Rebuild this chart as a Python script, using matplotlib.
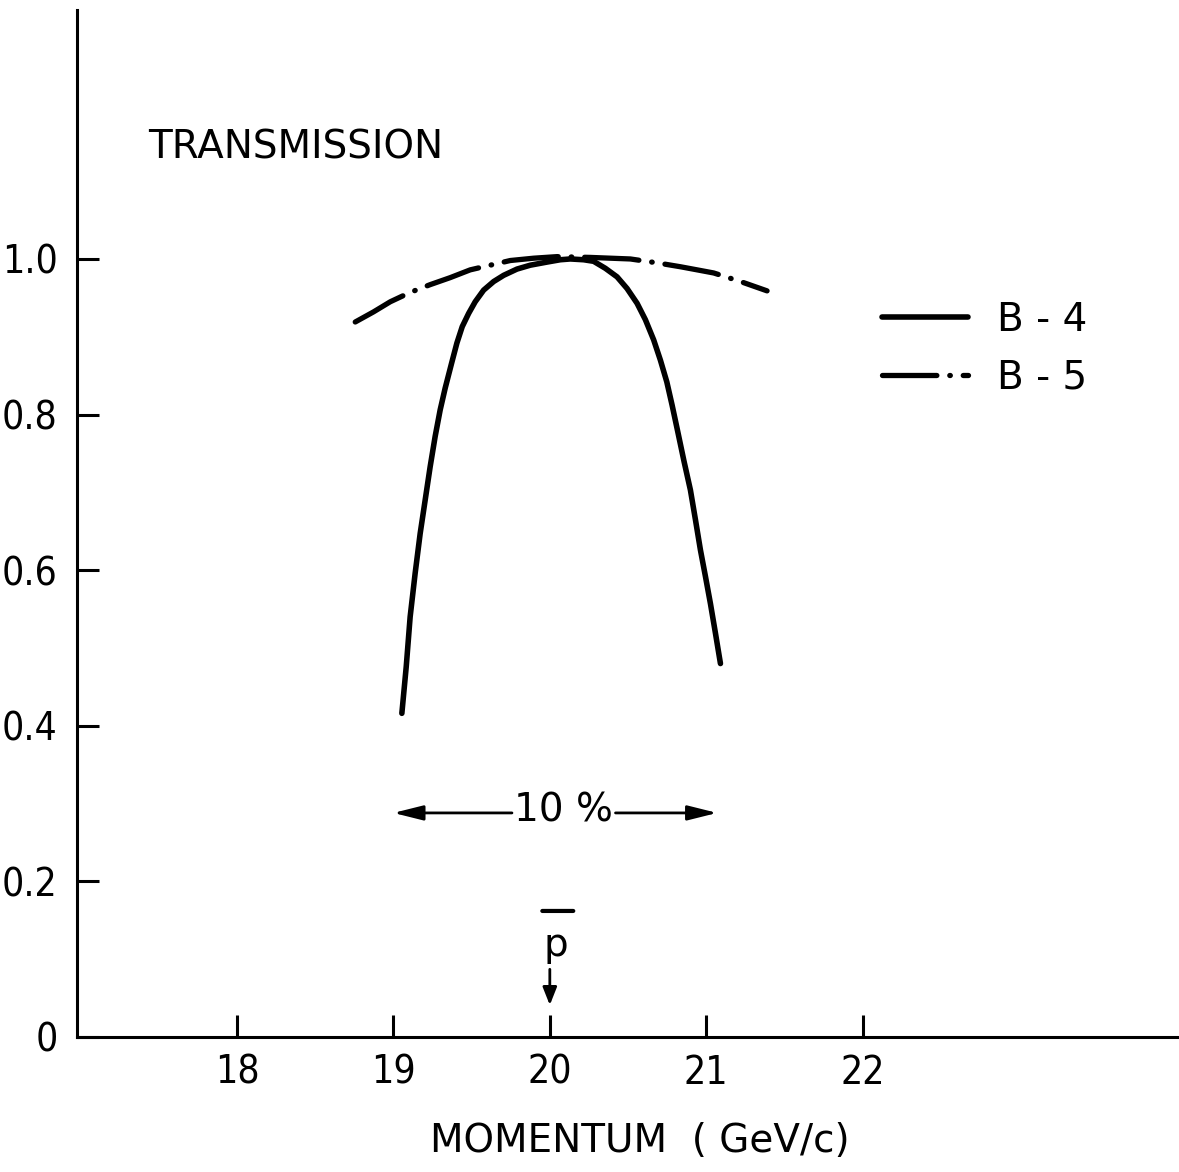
import matplotlib
matplotlib.use("Agg")
import matplotlib.pyplot as plt
import numpy as np

# transmission vs momentum
b4_p = [19.054, 19.082, 19.107, 19.139, 19.171, 19.203, 19.235, 19.267, 19.299,
        19.331, 19.372, 19.406, 19.440, 19.481, 19.523, 19.577, 19.641, 19.705,
        19.790, 19.875, 19.982, 20.067, 20.131, 20.216, 20.280, 20.355, 20.430,
        20.494, 20.558, 20.611, 20.664, 20.707, 20.748, 20.782, 20.816, 20.858,
        20.899, 20.931, 20.963, 20.995, 21.027, 21.059, 21.091]
b4_t = [0.416, 0.476, 0.540, 0.596, 0.647, 0.690, 0.733, 0.772, 0.806,
        0.834, 0.866, 0.892, 0.913, 0.930, 0.945, 0.960, 0.971, 0.979,
        0.987, 0.992, 0.996, 0.999, 1.000, 0.999, 0.997, 0.988, 0.977,
        0.962, 0.943, 0.922, 0.896, 0.870, 0.842, 0.812, 0.780, 0.740,
        0.703, 0.665, 0.626, 0.592, 0.557, 0.519, 0.480]

b5_p = [18.756, 18.873, 18.980, 19.107, 19.235, 19.363, 19.491, 19.619, 19.747,
        19.897, 20.046, 20.259, 20.387, 20.515, 20.686, 20.835, 20.942, 21.048,
        21.219, 21.389]
b5_t = [0.919, 0.932, 0.945, 0.957, 0.967, 0.976, 0.986, 0.992, 0.998,
        1.001, 1.003, 1.002, 1.001, 1.000, 0.995, 0.990, 0.986, 0.982,
        0.971, 0.959]

x_ticks = [18, 19, 20, 21, 22]
y_ticks = [0, 0.2, 0.4, 0.6, 0.8, 1.0]
y_tick_labels = ["0", "0.2", "0.4", "0.6", "0.8", "1.0"]

band_lo, band_hi = 19.0, 21.07   # the 10 % arrows
p_center = 20.0

plt.rcParams["font.family"] = ["DejaVu Sans"]
fs = 28

W, H = 1179, 1172
fig = plt.figure(figsize=(W / 100, H / 100), dpi=100)
ax = fig.add_axes([77 / W, (H - 1037) / H, 1100 / W, 1027 / H])

ax.plot(b4_p, b4_t, "k-", lw=4, solid_capstyle="round", solid_joinstyle="round",
        label="B - 4")
ax.plot(b5_p, b5_t, color="k", lw=3.8, linestyle=(0, (10.3, 2.45, 0.1, 2.45)),
        dash_capstyle="round", label="B - 5")

ax.set_xlim(16.977, 24.01)
ax.set_ylim(0, 1.32)
ax.spines["top"].set_visible(False)
ax.spines["right"].set_visible(False)
for s in ["left", "bottom"]:
    ax.spines[s].set_linewidth(2.2)

ax.set_xticks(x_ticks)
ax.set_xticklabels([str(t) for t in x_ticks])
ax.set_yticks(y_ticks)
ax.set_yticklabels(y_tick_labels)
ax.tick_params(direction="in", length=16, width=2.2, labelsize=fs)
ax.tick_params(axis="x", pad=12)
ax.tick_params(axis="y", pad=14)
for lab in ax.get_yticklabels() + ax.get_xticklabels():
    lab.set_fontstretch("condensed")

ax.set_xlabel("MOMENTUM  ( GeV/c)", fontsize=fs)
ax.xaxis.set_label_coords(0.512, -0.083)

ax.text(17.43, 1.143, "TRANSMISSION", fontsize=fs, ha="left", va="center")

leg = ax.legend(loc="upper left", bbox_to_anchor=(0.70, 0.751), frameon=False,
                fontsize=fs, handlelength=2.2, handletextpad=0.75, labelspacing=0.5)

# 10 % band arrows
arr = dict(arrowstyle="-|>,head_length=0.6,head_width=0.15", color="k", lw=2,
           mutation_scale=30, shrinkA=0, shrinkB=0)
ax.annotate("", xy=(band_lo, 0.288), xytext=(19.758, 0.288), arrowprops=arr)
ax.annotate("", xy=(band_hi, 0.288), xytext=(20.42, 0.288), arrowprops=arr)
ax.text(20.09, 0.291, "10 %", fontsize=fs, ha="center", va="center")

# anti-proton marker
ax.text(20.04, 0.118, "p", fontsize=fs, ha="center", va="center")
ax.annotate("", xy=(19.952, 0.162), xytext=(20.15, 0.162),
            arrowprops=dict(arrowstyle="-", color="k", lw=3, shrinkA=0, shrinkB=0))
ax.annotate("", xy=(p_center, 0.041), xytext=(p_center, 0.087),
            arrowprops=dict(arrowstyle="-|>,head_length=0.43,head_width=0.17",
                            color="k", lw=2, mutation_scale=25, shrinkA=0, shrinkB=0))

fig.savefig("out.png", dpi=100)
